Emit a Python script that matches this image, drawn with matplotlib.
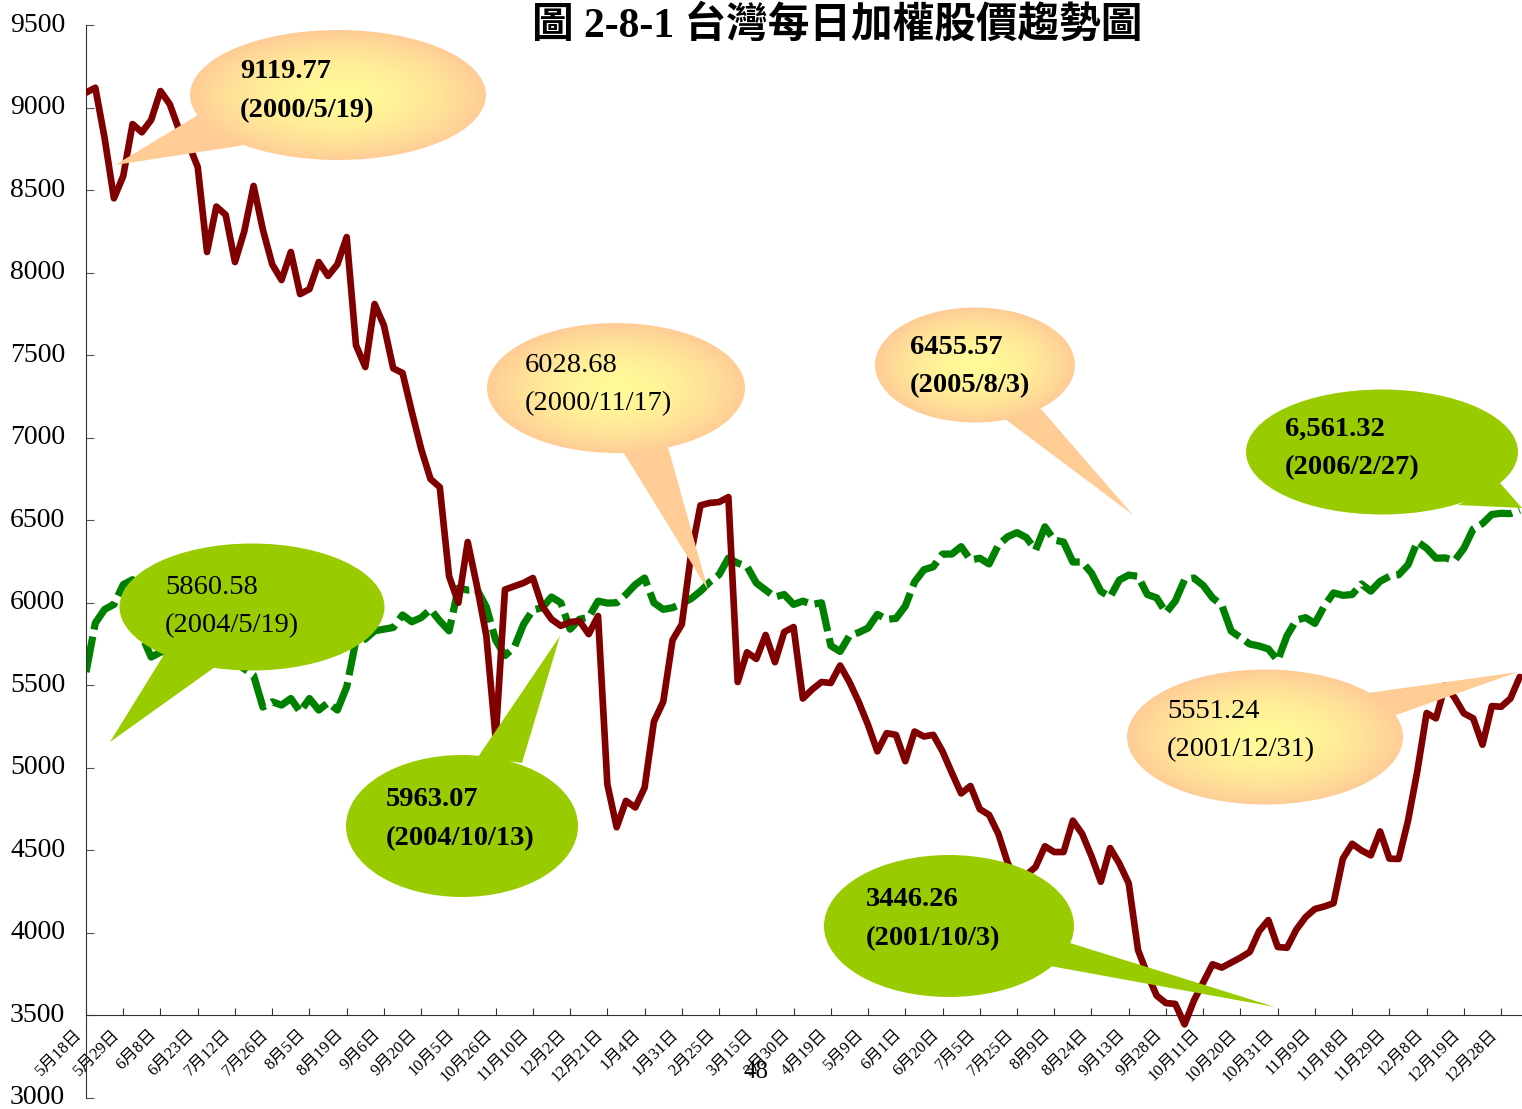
import numpy as np
import matplotlib
matplotlib.use('Agg')
import matplotlib.pyplot as plt
from matplotlib.patches import Ellipse, Polygon
from matplotlib.transforms import ScaledTranslation

plt.rcParams['font.family'] = ['Liberation Serif', 'Noto Sans CJK TC']

# x 軸日期標籤 (每 4 個資料點一個刻度)
date_labels = ['5月18日', '5月29日', '6月8日', '6月23日', '7月12日', '7月26日', '8月5日',
               '8月19日', '9月6日', '9月20日', '10月5日', '10月26日', '11月10日', '12月2日',
               '12月21日', '1月4日', '1月31日', '2月25日', '3月15日', '3月30日', '4月19日',
               '5月9日', '6月1日', '6月20日', '7月5日', '7月25日', '8月9日', '8月24日',
               '9月13日', '9月28日', '10月11日', '10月20日', '10月31日', '11月9日', '11月18日',
               '11月29日', '12月8日', '12月19日', '12月28日']

# 2000/5 ~ 2001/12 加權指數 (紅線)
taiex_2000_2001 = [
    9090, 9120, 8815, 8450, 8585, 8900, 8850, 8925, 9100, 9020,
    8864, 8780, 8640, 8125, 8400, 8350, 8064, 8250, 8525, 8260,
    8050, 7955, 8125, 7870, 7900, 8064, 7980, 8050, 8215, 7560,
    7428, 7810, 7680, 7420, 7392, 7156, 6932, 6750, 6700, 6160,
    6000, 6368, 6100, 5800, 5180, 6080, 6100, 6120, 6150, 5980,
    5900, 5860, 5883, 5890, 5810, 5920, 4900, 4640, 4800, 4760,
    4880, 5280, 5400, 5774, 5870, 6300, 6590, 6605, 6610, 6640,
    5520, 5700, 5660, 5805, 5640, 5823, 5853, 5420, 5475, 5520,
    5514, 5620, 5520, 5399, 5260, 5100, 5210, 5200, 5040, 5220,
    5190, 5200, 5100, 4970, 4845, 4890, 4750, 4715, 4600, 4424,
    4300, 4350, 4400, 4525, 4490, 4490, 4680, 4600, 4465, 4310,
    4514, 4420, 4300, 3896, 3750, 3620, 3575, 3570, 3446, 3590,
    3700, 3810, 3790, 3820, 3850, 3885, 4010, 4078, 3915, 3910,
    4020, 4096, 4145, 4160, 4180, 4450, 4540, 4500, 4470, 4615,
    4450, 4448, 4680, 4980, 5332, 5300, 5500, 5425, 5330, 5300,
    5140, 5374, 5370, 5420, 5551,
]

# 2004/5 ~ 2006/2 加權指數 (綠色虛線)
taiex_2004_2006 = [
    5580, 5877, 5960, 5990, 6110, 6140, 5800, 5671, 5700, 5720,
    5690, 5710, 5700, 5680, 5700, 5660, 5640, 5600, 5560, 5368,
    5400, 5380, 5420, 5340, 5420, 5350, 5395, 5350, 5490, 5774,
    5780, 5830, 5840, 5850, 5926, 5885, 5910, 5960, 5890, 5830,
    6089, 6077, 6080, 5974, 5774, 5680, 5730, 5870, 5956, 5970,
    6035, 6000, 5840, 5900, 5913, 6010, 5998, 6000, 6050, 6110,
    6150, 6000, 5960, 5970, 5995, 6025, 6070, 6126, 6170, 6271,
    6240, 6220, 6120, 6077, 6035, 6050, 5990, 6010, 5990, 6000,
    5740, 5705, 5800, 5820, 5847, 5930, 5900, 5905, 5980, 6126,
    6200, 6218, 6295, 6295, 6340, 6260, 6270, 6235, 6350, 6400,
    6425, 6395, 6320, 6460, 6380, 6368, 6247, 6247, 6180, 6070,
    6035, 6138, 6168, 6160, 6050, 6030, 5940, 6010, 6140, 6150,
    6105, 6030, 5985, 5829, 5790, 5750, 5738, 5720, 5650, 5800,
    5895, 5910, 5875, 5980, 6060, 6045, 6050, 6114, 6070, 6130,
    6160, 6170, 6230, 6370, 6330, 6270, 6272, 6255, 6330, 6447,
    6480, 6535, 6542, 6540, 6561,
]

# 標註框: (數值, 日期, 粗體, 顏色)
notes = [
    ('9119.77', '(2000/5/19)', True, 'orange'),
    ('6028.68', '(2000/11/17)', False, 'orange'),
    ('6455.57', '(2005/8/3)', True, 'orange'),
    ('6,561.32', '(2006/2/27)', True, 'green'),
    ('5551.24', '(2001/12/31)', False, 'orange'),
    ('5860.58', '(2004/5/19)', False, 'green'),
    ('5963.07', '(2004/10/13)', True, 'green'),
    ('3446.26', '(2001/10/3)', True, 'green'),
]

W, H, DPI = 1522, 1109, 100
fig = plt.figure(figsize=(W / DPI, H / DPI), dpi=DPI)
ax = fig.add_axes([86 / W, (H - 1098) / H, (W - 86) / W, (1098 - 25) / H])

x = np.arange(len(taiex_2000_2001))
ax.plot(x, taiex_2004_2006, color='#008000', lw=5.2, dashes=(5, 1),
        dash_capstyle='butt', zorder=2)
ax.plot(x, taiex_2000_2001, color='#800000', lw=4.8,
        solid_joinstyle='round', solid_capstyle='round', zorder=3)

ax.set_xlim(0, (W - 86) / 9.31)
ax.set_ylim(3000, 9500)
ax.set_yticks(range(3000, 9501, 500))
ax.set_xticks(np.arange(0, 4 * len(date_labels), 4))
ax.set_xticklabels(date_labels)

for s in ('top', 'right'):
    ax.spines[s].set_visible(False)
ax.spines['bottom'].set_position(('data', 3500))
ax.spines['left'].set_color('#333333')
ax.spines['bottom'].set_color('#333333')
ax.tick_params(axis='y', direction='in', length=6, pad=15, labelsize=20, color='#555555')
ax.tick_params(axis='x', direction='in', length=5, pad=12, labelsize=12, color='#333333')
shift = ScaledTranslation(-6 / DPI, 0, fig.dpi_scale_trans)
for lab in ax.get_xticklabels():
    lab.set_rotation(45)
    lab.set_ha('right')
    lab.set_va('center')
    lab.set_rotation_mode('anchor')
    lab.set_transform(lab.get_transform() + shift)
for lab in ax.get_yticklabels():
    lab.set_va('center')

# 上層畫布 (像素座標) 畫標註框與標題
ov = fig.add_axes([0, 0, 1, 1], zorder=5)
ov.set_xlim(0, W)
ov.set_ylim(H, 0)
ov.axis('off')

# (中心x, 中心y, 寬, 高, 尾巴三角形, 文字x, 第一行y)
shapes = [
    (338, 95, 296, 130, [(198, 115), (245, 145), (115, 165)], 240, 72),
    (616, 388, 258, 130, [(622, 450), (668, 447), (708, 590)], 525, 365),
    (975, 365, 200, 115, [(1005, 419), (1040, 408), (1133, 515)], 910, 347),
    (1382, 452, 272, 125, [(1458, 505), (1500, 483), (1522, 508)], 1285, 429),
    (1265, 737, 276, 135, [(1368, 693), (1396, 715), (1518, 672)], 1167, 711),
    (252, 607, 265, 127, [(165, 653), (215, 667), (110, 742)], 165, 587),
    (462, 826, 232, 142, [(478, 757), (522, 763), (560, 636)], 386, 800),
    (949, 926, 250, 142, [(1050, 966), (1070, 943), (1275, 1007)], 866, 900),
]

c_mid = np.array([1.0, 0.98, 0.60])
c_edge = np.array([1.0, 0.80, 0.59])

for (val, date, bold, kind), (cx, cy, w, h, tail, tx, ty) in zip(notes, shapes):
    ell = Ellipse((cx, cy), w, h)
    tri = Polygon(tail, closed=True)
    if kind == 'green':
        for p in (ell, tri):
            p.set_facecolor('#99CC00')
            p.set_edgecolor('none')
            ov.add_patch(p)
    else:
        xs = [cx - w / 2, cx + w / 2] + [p[0] for p in tail]
        ys = [cy - h / 2, cy + h / 2] + [p[1] for p in tail]
        x0, x1 = int(min(xs)) - 2, int(max(xs)) + 2
        y0, y1 = int(min(ys)) - 2, int(max(ys)) + 2
        gx, gy = np.meshgrid(np.arange(x0, x1), np.arange(y0, y1))
        t = np.clip(np.hypot((gx - cx) / (w / 2), (gy - cy) / (h / 2)), 0, 1) ** 1.8
        rgb = c_mid * (1 - t)[..., None] + c_edge * t[..., None]
        for p in (ell, tri):
            p.set_facecolor('none')
            p.set_edgecolor('none')
            ov.add_patch(p)
            im = ov.imshow(rgb, extent=(x0, x1, y1, y0), origin='upper',
                           aspect='auto', interpolation='bilinear')
            im.set_clip_path(p)
    fw = 'bold' if bold else 'normal'
    ov.text(tx, ty, val, fontsize=20.5, fontweight=fw, ha='left', va='center')
    ov.text(tx, ty + 39, date, fontsize=20.5, fontweight=fw, ha='left', va='center')

ov.set_xlim(0, W)
ov.set_ylim(H, 0)

ov.text(837, 25, '圖 2-8-1 台灣每日加權股價趨勢圖', fontsize=30, fontweight='bold',
        ha='center', va='center')
ov.text(756, 1072, '48', fontsize=18, ha='center', va='center')

fig.savefig('out.png', dpi=DPI)
